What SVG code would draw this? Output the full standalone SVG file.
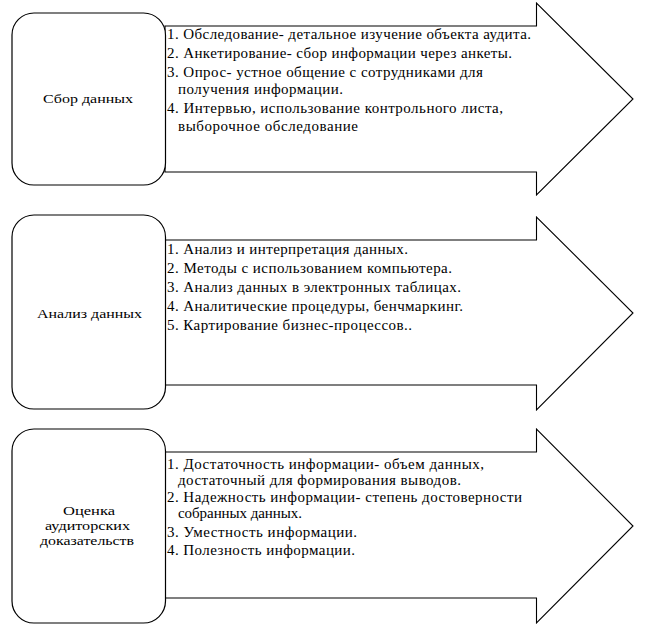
<svg xmlns="http://www.w3.org/2000/svg" width="645" height="626" viewBox="0 0 645 626">
<rect width="645" height="626" fill="#fff"/>
<g id="connectors" fill="#fff" stroke="#000" stroke-width="1.1">
<path d="M165,26 H536.5 V3 L633,99 L536.5,195 V172 H165 Z"/>
<path d="M165,240 H536.5 V217 L633,313 L536.5,410 V385 H165 Z"/>
<path d="M165,452 H536.5 V429 L633,526 L536.5,623 V598 H165 Z"/>
</g>
<g id="node1">
<rect x="12" y="13" width="153.5" height="172" rx="22" ry="22" fill="#fff" stroke="#000" stroke-width="1.2"/>
<text font-family="Liberation Serif" font-size="20" text-anchor="middle" x="0" y="0" transform="translate(88 103) scale(0.65)" textLength="138.5" lengthAdjust="spacingAndGlyphs">Сбор данных</text>
</g>
<g id="list1">
<text font-family="Liberation Serif" font-size="20" x="0" y="0" transform="translate(167 38.5) scale(0.75)" textLength="485.3">1. Обследование- детальное изучение объекта аудита.</text>
<text font-family="Liberation Serif" font-size="20" x="0" y="0" transform="translate(167 57.5) scale(0.75)" textLength="460">2. Анкетирование- сбор информации через анкеты.</text>
<text font-family="Liberation Serif" font-size="20" x="0" y="0" transform="translate(167 76.5) scale(0.75)" textLength="421.3">3. Опрос- устное общение с сотрудниками для</text>
<text font-family="Liberation Serif" font-size="20" x="0" y="0" transform="translate(178 93.5) scale(0.75)" textLength="220">получения информации.</text>
<text font-family="Liberation Serif" font-size="20" x="0" y="0" transform="translate(167 112.5) scale(0.75)" textLength="448">4. Интервью, использование контрольного листа,</text>
<text font-family="Liberation Serif" font-size="20" x="0" y="0" transform="translate(178 130.5) scale(0.75)" textLength="240">выборочное обследование</text>
</g>
<g id="node2">
<rect x="12" y="215" width="153.5" height="194" rx="22" ry="22" fill="#fff" stroke="#000" stroke-width="1.2"/>
<text font-family="Liberation Serif" font-size="20" text-anchor="middle" x="0" y="0" transform="translate(89.5 318) scale(0.65)" textLength="161.5" lengthAdjust="spacingAndGlyphs">Анализ данных</text>
</g>
<g id="list2">
<text font-family="Liberation Serif" font-size="20" x="0" y="0" transform="translate(167 254) scale(0.75)" textLength="321.3">1. Анализ и интерпретация данных.</text>
<text font-family="Liberation Serif" font-size="20" x="0" y="0" transform="translate(167 273) scale(0.75)" textLength="380">2. Методы с использованием компьютера.</text>
<text font-family="Liberation Serif" font-size="20" x="0" y="0" transform="translate(167 292) scale(0.75)" textLength="392">3. Анализ данных в электронных таблицах.</text>
<text font-family="Liberation Serif" font-size="20" x="0" y="0" transform="translate(167 311) scale(0.75)" textLength="394.7">4. Аналитические процедуры, бенчмаркинг.</text>
<text font-family="Liberation Serif" font-size="20" x="0" y="0" transform="translate(167 330) scale(0.75)" textLength="326.7">5. Картирование бизнес-процессов..</text>
</g>
<g id="node3">
<rect x="12" y="429" width="153.5" height="194" rx="22" ry="22" fill="#fff" stroke="#000" stroke-width="1.2"/>
<text font-family="Liberation Serif" font-size="20" text-anchor="middle" x="0" y="0" transform="translate(89 515) scale(0.65)" textLength="80" lengthAdjust="spacingAndGlyphs">Оценка</text>
<text font-family="Liberation Serif" font-size="20" text-anchor="middle" x="0" y="0" transform="translate(87.5 530) scale(0.65)" textLength="130.8" lengthAdjust="spacingAndGlyphs">аудиторских</text>
<text font-family="Liberation Serif" font-size="20" text-anchor="middle" x="0" y="0" transform="translate(87 545) scale(0.65)" textLength="144.6" lengthAdjust="spacingAndGlyphs">доказательств</text>
</g>
<g id="list3">
<text font-family="Liberation Serif" font-size="20" x="0" y="0" transform="translate(167 469) scale(0.75)" textLength="422.7">1. Достаточность информации- объем данных,</text>
<text font-family="Liberation Serif" font-size="20" x="0" y="0" transform="translate(178 485) scale(0.75)" textLength="377.3">достаточный для формирования выводов.</text>
<text font-family="Liberation Serif" font-size="20" x="0" y="0" transform="translate(167 502) scale(0.75)" textLength="473.3">2. Надежность информации- степень достоверности</text>
<text font-family="Liberation Serif" font-size="20" x="0" y="0" transform="translate(178 518) scale(0.75)" textLength="165.3">собранных данных.</text>
<text font-family="Liberation Serif" font-size="20" x="0" y="0" transform="translate(167 537) scale(0.75)" textLength="253.3">3. Уместность информации.</text>
<text font-family="Liberation Serif" font-size="20" x="0" y="0" transform="translate(167 555) scale(0.75)" textLength="250.7">4. Полезность информации.</text>
</g>
</svg>
